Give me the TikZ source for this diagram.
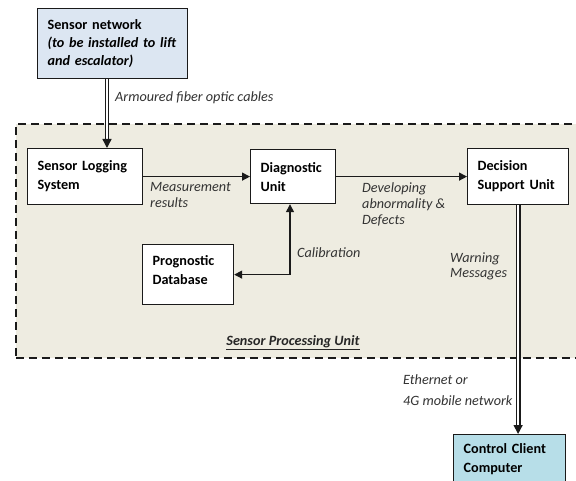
\documentclass[tikz,border=0pt]{standalone}
\usepackage{fontspec}
\setmainfont{Carlito}
\usetikzlibrary{arrows.meta,calc}
\definecolor{snfill}{HTML}{DCE6F2}
\definecolor{ccfill}{HTML}{B7DEE8}
\definecolor{spufill}{HTML}{EEECE1}
\definecolor{edge}{HTML}{1A1A1A}
\tikzset{
 box/.style={draw=edge, line width=1.2pt, fill=white, anchor=north west, inner sep=0pt, inner xsep=10pt, align=left, font=\fontsize{14.2}{19}\selectfont\bfseries},
 lbl/.style={anchor=west, inner sep=0pt, align=left, font=\fontsize{14.2}{16}\selectfont\itshape, text=black!80},
 arr/.style={line width=1.3pt, draw=edge, -{Triangle[length=8pt,width=8pt]}},
 dbl/.style={line width=1.4pt, double distance=2pt, draw=edge, -{Triangle[length=9pt,width=9pt]}},
 region/.style={draw=edge, line width=1.8pt, dash pattern=on 8pt off 5pt, fill=spufill, anchor=north west, inner sep=0pt},
}
\begin{document}
\begin{tikzpicture}[x=1pt,y=-1pt]
\useasboundingbox (0,0) rectangle (576,481);
\clip (0,0) rectangle (576,481);
\fill[white] (0,0) rectangle (576,481);
\node[region, minimum width=590pt, minimum height=234pt] (spureg) at (15,123) {};
\node[box, fill=snfill, text width=130pt, minimum height=70pt, font=\fontsize{14.2}{18}\selectfont\bfseries] (sn) at (37,8) {\mbox{Sensor network}\\\mbox{\textit{(to be installed to lift}}\\\mbox{\textit{and escalator)}}};
\node[box, text width=95pt, minimum height=56pt] (sls) at (27,148) {Sensor Logging\\System};
\node[box, text width=65pt, minimum height=54pt] (diag) at (250,149) {\mbox{Diagnostic}\\Unit};
\node[box, text width=81pt, minimum height=56pt] (dsu) at (467,148) {Decision\\\mbox{Support Unit}};
\node[box, text width=71pt, minimum height=60pt] (pd) at (142,244) {Prognostic\\Database\\[-9pt]\mbox{}};
\node[box, fill=ccfill, text width=92pt, minimum height=50pt] (cc) at (453,434) {\mbox{Control Client}\\Computer};
\coordinate (d1) at (107,0);
\coordinate (calx) at (290,0);
\draw[dbl] (sn.south -| d1) -- (sls.north -| d1);
\draw[arr] (sls.east) -- (diag.west);
\draw[arr] (diag.east) -- (dsu.west);
\draw[arr, {Triangle[length=8pt,width=8pt]}-{Triangle[length=8pt,width=8pt]}] (pd.east) -| (diag.south -| calx);
\draw[dbl] (dsu.south) -- (cc.north -| dsu.south);
\node[lbl] (l1) at (115,98) {Armoured fiber optic cables};
\node[lbl] (l2) at (150,195) {Measurement\\results};
\node[lbl] (l3) at (362,204) {Developing\\abnormality \&\\Defects};
\node[lbl] (l4) at (297,253) {Calibration};
\node[lbl, font=\fontsize{14.2}{15}\selectfont\itshape] (l5) at (450,266) {Warning\\Messages};
\node[lbl, font=\fontsize{14.2}{21}\selectfont\itshape] (l6) at (403,390) {Ethernet or\\\mbox{4G mobile network}};
\node[inner sep=0pt, font=\fontsize{14.2}{16}\selectfont\bfseries\itshape, text=black!85] (spu) at (293,343) {\underline{Sensor Processing Unit}};
\end{tikzpicture}
\end{document}
